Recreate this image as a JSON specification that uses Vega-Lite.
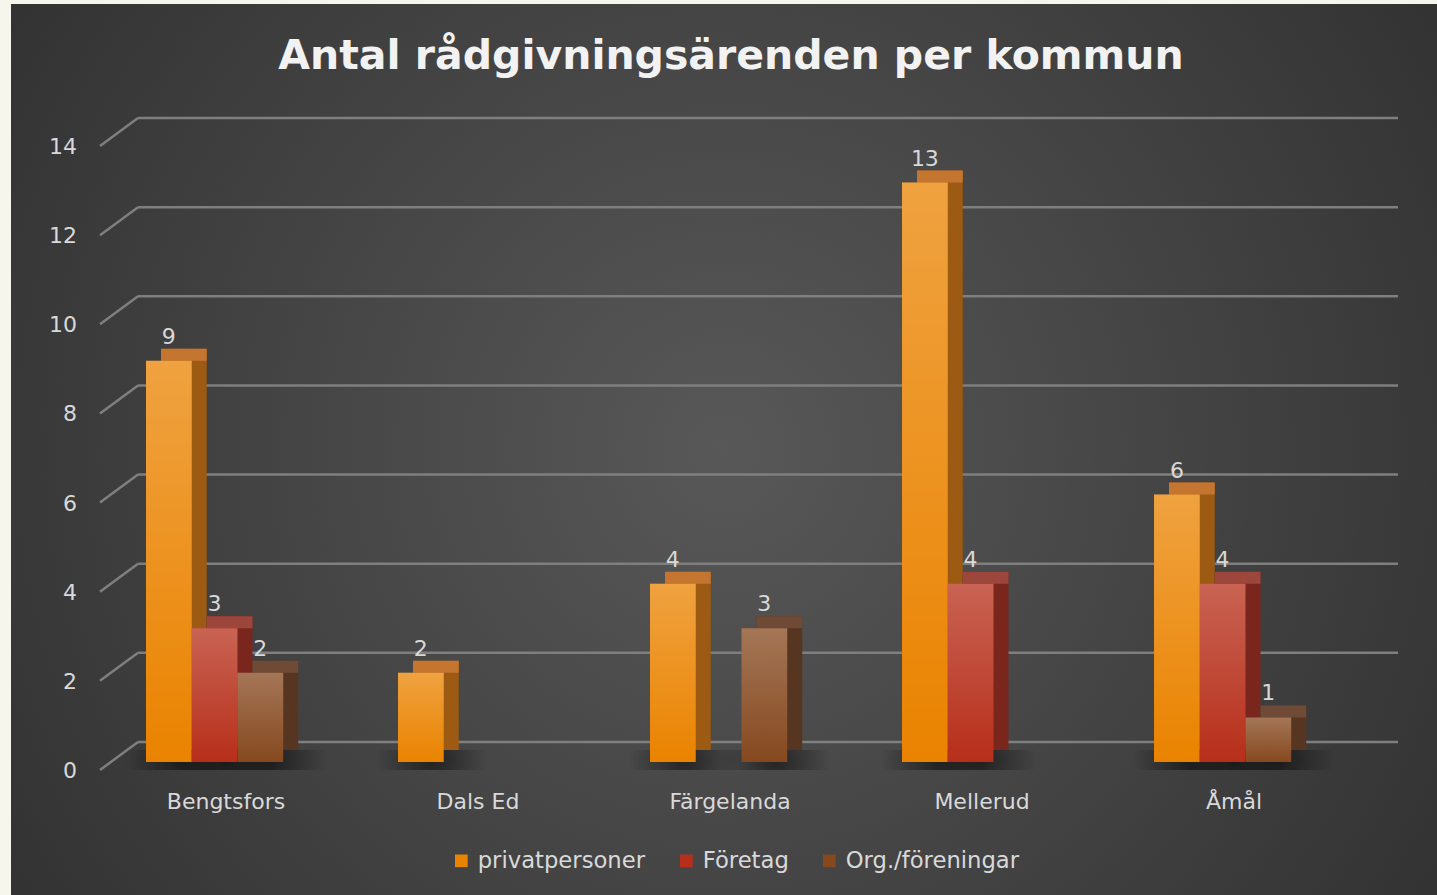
{
  "$schema": "https://vega.github.io/schema/vega-lite/v6.json",
  "width": 1426,
  "height": 891,
  "autosize": "none",
  "padding": {"left": 11, "top": 4, "right": 0, "bottom": 0},
  "background": "#f6f6ec",
  "config": {
    "view": {
      "stroke": null,
      "fill": {"gradient": "radial", "x1": 0.5, "y1": 0.5, "r1": 0, "x2": 0.5, "y2": 0.5, "r2": 0.85,
        "stops": [{"offset": 0, "color": "#585858"}, {"offset": 1, "color": "#222222"}]}
    },
    "text": {"font": "DejaVu Sans", "color": "#d9d9d9"}
  },
  "title": {
    "text": "Antal rådgivningsärenden per kommun",
    "font": "DejaVu Sans",
    "fontSize": 41,
    "fontWeight": "bold",
    "color": "#f2f2f2",
    "anchor": "middle",
    "baseline": "alphabetic",
    "offset": -66,
    "dy": 40,
    "dx": 7
  },
  "resolve": {"scale": {"xOffset": "independent"}},
  "datasets": {
    "bars": [
      {"kommun": "Bengtsfors", "serie": "privatpersoner", "antal": 9},
      {"kommun": "Bengtsfors", "serie": "Företag", "antal": 3},
      {"kommun": "Bengtsfors", "serie": "Org./föreningar", "antal": 2},
      {"kommun": "Dals Ed", "serie": "privatpersoner", "antal": 2},
      {"kommun": "Färgelanda", "serie": "privatpersoner", "antal": 4},
      {"kommun": "Färgelanda", "serie": "Org./föreningar", "antal": 3},
      {"kommun": "Mellerud", "serie": "privatpersoner", "antal": 13},
      {"kommun": "Mellerud", "serie": "Företag", "antal": 4},
      {"kommun": "Åmål", "serie": "privatpersoner", "antal": 6},
      {"kommun": "Åmål", "serie": "Företag", "antal": 4},
      {"kommun": "Åmål", "serie": "Org./föreningar", "antal": 1}
    ],
    "grid": [{"v": 0}, {"v": 2}, {"v": 4}, {"v": 6}, {"v": 8}, {"v": 10}, {"v": 12}, {"v": 14}],
    "kommuner": [{"kommun": "Bengtsfors"}, {"kommun": "Dals Ed"}, {"kommun": "Färgelanda"}, {"kommun": "Mellerud"}, {"kommun": "Åmål"}]
  },
  "layer": [
    {
      "data": {"name": "grid"},
      "mark": {"type": "rule", "color": "#7f7f7f", "strokeWidth": 2.5, "xOffset": 26.35, "x2Offset": 49.65, "yOffset": -28},
      "encoding": {
        "x": {"datum": "Bengtsfors", "bandPosition": 0, "type": "nominal",
          "scale": {"domain": ["Bengtsfors", "Dals Ed", "Färgelanda", "Mellerud", "Åmål"], "paddingInner": 0.0925, "paddingOuter": 0.3756, "align": 0.5317},
          "axis": null},
        "x2": {"datum": "Åmål", "bandPosition": 1},
        "y": {"field": "v", "type": "quantitative", "scale": {"domain": [-2.8045, 17.186], "nice": false, "zero": false}, "axis": null}
      }
    },
    {
      "data": {"name": "grid"},
      "mark": {"type": "rule", "color": "#7f7f7f", "strokeWidth": 2.5, "xOffset": -11.65, "x2Offset": 26.35, "y2Offset": -28},
      "encoding": {
        "x": {"datum": "Bengtsfors", "bandPosition": 0, "type": "nominal"},
        "x2": {"datum": "Bengtsfors", "bandPosition": 0},
        "y": {"field": "v", "type": "quantitative"},
        "y2": {"field": "v"}
      }
    },
    {
      "data": {"name": "grid"},
      "mark": {"type": "text", "align": "right", "baseline": "middle", "fontSize": 22, "xOffset": -34.65, "yOffset": 1},
      "encoding": {
        "x": {"datum": "Bengtsfors", "bandPosition": 0, "type": "nominal"},
        "y": {"field": "v", "type": "quantitative"},
        "text": {"field": "v", "type": "quantitative"}
      }
    },
    {
      "data": {"name": "kommuner"},
      "mark": {"type": "text", "align": "center", "baseline": "middle", "fontSize": 22, "yOffset": 32},
      "encoding": {
        "x": {"field": "kommun", "type": "nominal"},
        "y": {"datum": 0, "type": "quantitative"},
        "text": {"field": "kommun", "type": "nominal"}
      }
    },
    {
      "data": {"name": "bars"},
      "mark": {"type": "bar", "width": 110, "yOffset": -20, "y2Offset": 0,
        "fill": {"gradient": "radial", "x1": 0.5, "y1": 0.5, "r1": 0, "x2": 0.5, "y2": 0.5, "r2": 0.5,
          "stops": [{"offset": 0, "color": "rgba(0,0,0,0.5)"}, {"offset": 0.5, "color": "rgba(0,0,0,0.25)"}, {"offset": 1, "color": "rgba(0,0,0,0)"}]}},
      "encoding": {
        "x": {"field": "kommun", "type": "nominal"},
        "xOffset": {"field": "serie", "type": "nominal", "scale": {"domain": ["privatpersoner", "Företag", "Org./föreningar"], "paddingInner": 0, "paddingOuter": 1, "align": 0.5}},
        "y": {"datum": 0, "type": "quantitative"},
        "y2": {"datum": 0}
      }
    },
    {
      "data": {"name": "bars"},
      "mark": {"type": "bar", "yOffset": -20, "y2Offset": -20},
      "encoding": {
        "x": {"field": "kommun", "type": "nominal"},
        "xOffset": {"field": "serie", "type": "nominal", "scale": {"domain": ["privatpersoner", "Företag", "Org./föreningar"], "paddingInner": 0, "paddingOuter": 1, "align": 0.5395}},
        "y": {"field": "antal", "type": "quantitative"},
        "y2": {"datum": 0},
        "fill": {"condition": [
          {"test": "datum.serie === 'Företag'", "value": "#7a261c"},
          {"test": "datum.serie === 'Org./föreningar'", "value": "#573621"}
        ], "value": "#9c5a12"}
      }
    },
    {
      "data": {"name": "bars"},
      "mark": {"type": "bar", "yOffset": -20, "y2Offset": -8},
      "encoding": {
        "x": {"field": "kommun", "type": "nominal"},
        "xOffset": {"field": "serie", "type": "nominal", "scale": {"domain": ["privatpersoner", "Företag", "Org./föreningar"], "paddingInner": 0, "paddingOuter": 1, "align": 0.5395}},
        "y": {"field": "antal", "type": "quantitative"},
        "y2": {"field": "antal"},
        "fill": {"condition": [
          {"test": "datum.serie === 'Företag'", "value": "#9c463c"},
          {"test": "datum.serie === 'Org./föreningar'", "value": "#6f4a37"}
        ], "value": "#c47530"}
      }
    },
    {
      "data": {"name": "bars"},
      "mark": {"type": "bar", "yOffset": -8, "y2Offset": -8},
      "encoding": {
        "x": {"field": "kommun", "type": "nominal"},
        "xOffset": {"field": "serie", "type": "nominal", "scale": {"domain": ["privatpersoner", "Företag", "Org./föreningar"], "paddingInner": 0, "paddingOuter": 1, "align": 0.3755}},
        "y": {"field": "antal", "type": "quantitative"},
        "y2": {"datum": 0},
        "color": {"field": "serie", "type": "nominal",
          "scale": {"domain": ["privatpersoner", "Företag", "Org./föreningar"], "range": ["#ea8300", "#b72f1a", "#86491f"]},
          "legend": {"title": null, "orient": "none", "direction": "horizontal", "legendX": 439, "legendY": 845,
            "symbolType": "square", "symbolSize": 160, "symbolStrokeWidth": 0, "labelFontSize": 22.7, "labelFont": "DejaVu Sans",
            "labelColor": "#d9d9d9", "labelOffset": 5, "labelLimit": 400, "columnPadding": 29, "symbolOpacity": 1}}
      }
    },
    {
      "data": {"name": "bars"},
      "mark": {"type": "bar", "yOffset": -8, "y2Offset": -8,
        "fill": {"gradient": "linear", "x1": 0, "y1": 0, "x2": 0, "y2": 1,
          "stops": [{"offset": 0, "color": "rgba(255,255,255,0.25)"}, {"offset": 1, "color": "rgba(255,255,255,0)"}]}},
      "encoding": {
        "x": {"field": "kommun", "type": "nominal"},
        "xOffset": {"field": "serie", "type": "nominal", "scale": {"domain": ["privatpersoner", "Företag", "Org./föreningar"], "paddingInner": 0, "paddingOuter": 1, "align": 0.3755}},
        "y": {"field": "antal", "type": "quantitative"},
        "y2": {"datum": 0}
      }
    },
    {
      "data": {"name": "bars"},
      "mark": {"type": "text", "align": "center", "baseline": "alphabetic", "fontSize": 22, "yOffset": -25},
      "encoding": {
        "x": {"field": "kommun", "type": "nominal"},
        "xOffset": {"field": "serie", "type": "nominal", "scale": {"type": "band", "domain": ["privatpersoner", "Företag", "Org./föreningar"], "paddingInner": 0, "paddingOuter": 1, "align": 0.3755}},
        "y": {"field": "antal", "type": "quantitative"},
        "text": {"field": "antal", "type": "quantitative"}
      }
    }
  ]
}
